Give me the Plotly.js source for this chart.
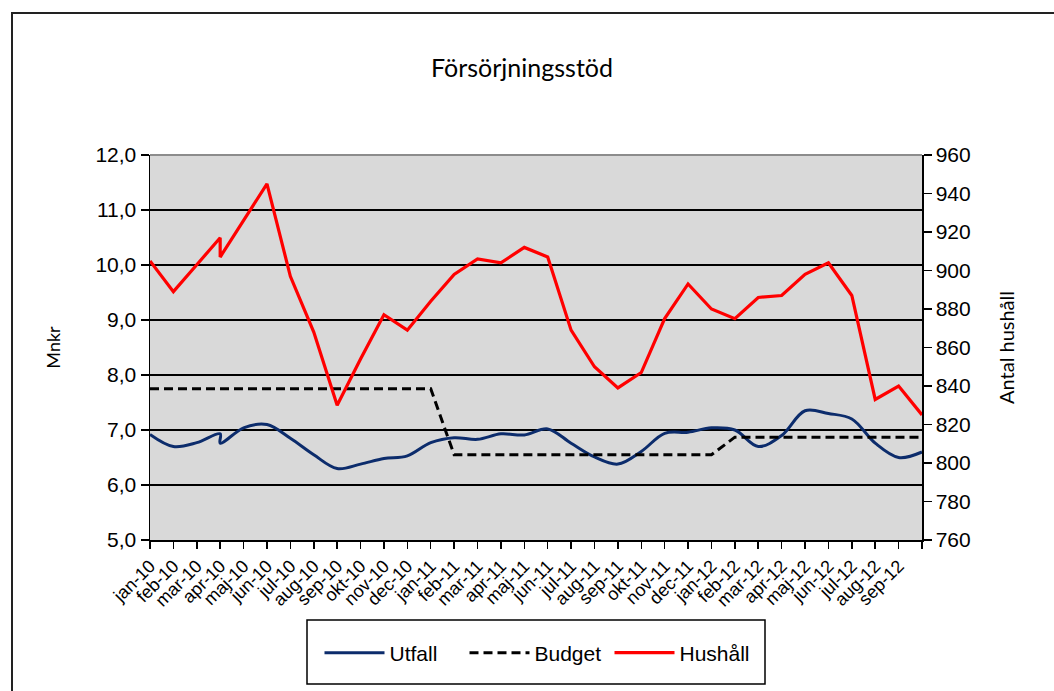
<!DOCTYPE html>
<html>
<head>
<meta charset="utf-8">
<script src="https://cdn.plot.ly/plotly-3.0.1.min.js"></script>
<style>
html,body{margin:0;padding:0;background:#fff;}
#chart{width:1054px;height:691px;}
</style>
</head>
<body>
<div id="chart"></div>
<script>
// Periods (April 2010 appears twice in the source data)
const periods = ['jan-10','feb-10','mar-10','apr-10','apr-10','maj-10','jun-10','jul-10','aug-10','sep-10','okt-10','nov-10','dec-10',
  'jan-11','feb-11','mar-11','apr-11','maj-11','jun-11','jul-11','aug-11','sep-11','okt-11','nov-11','dec-11',
  'jan-12','feb-12','mar-12','apr-12','maj-12','jun-12','jul-12','aug-12','sep-12','okt-12'];

// Axis categories and their labels (last category has no label)
const months = ['jan-10','feb-10','mar-10','apr-10','maj-10','jun-10','jul-10','aug-10','sep-10','okt-10','nov-10','dec-10',
  'jan-11','feb-11','mar-11','apr-11','maj-11','jun-11','jul-11','aug-11','sep-11','okt-11','nov-11','dec-11',
  'jan-12','feb-12','mar-12','apr-12','maj-12','jun-12','jul-12','aug-12','sep-12','okt-12'];
const monthLabels = ['jan-10','feb-10','mar-10','apr-10','maj-10','jun-10','jul-10','aug-10','sep-10','okt-10','nov-10','dec-10',
  'jan-11','feb-11','mar-11','apr-11','maj-11','jun-11','jul-11','aug-11','sep-11','okt-11','nov-11','dec-11',
  'jan-12','feb-12','mar-12','apr-12','maj-12','jun-12','jul-12','aug-12','sep-12',''];

// Utfall (Mnkr)
const utfall = [6.92,6.70,6.77,6.93,6.76,7.04,7.10,6.85,6.55,6.30,6.38,6.48,6.53,
  6.77,6.86,6.83,6.93,6.91,7.02,6.76,6.51,6.38,6.61,6.94,6.96,
  7.04,7.00,6.70,6.90,7.35,7.30,7.20,6.76,6.50,6.60];

// Budget (Mnkr)
const budget = [7.75,7.75,7.75,7.75,7.75,7.75,7.75,7.75,7.75,7.75,7.75,7.75,7.75,
  7.75,6.55,6.55,6.55,6.55,6.55,6.55,6.55,6.55,6.55,6.55,6.55,
  6.55,6.87,6.87,6.87,6.87,6.87,6.87,6.87,6.87,6.87];

// Hushåll (antal)
const hushall = [905,889,903,917,907,926,945,897,868,830,854,877,869,
  884,898,906,904,912,907,869,850,839,847,875,893,
  880,875,886,887,898,904,887,833,840,825];

const leftTicks = [5,6,7,8,9,10,11,12];
const rightTicks = [760,780,800,820,840,860,880,900,920,940,960];

const W = 1054, H = 691;
const M = {l:150, r:132, t:155, b:151};
const pw = W - M.l - M.r, ph = H - M.t - M.b;
const px = x => (x - M.l) / pw;
const py = y => (H - M.b - y) / ph;

const axisFont = {family:'"Liberation Sans", Arial, sans-serif', size:21, color:'#000'};
const titleFamily = 'Lato, "Open Sans", sans-serif';

const traces = [
  {x: periods, y: utfall, name:'Utfall', type:'scatter', mode:'lines',
   line:{color:'#0c2c6c', width:3, shape:'spline', smoothing:1}},
  {x: periods, y: budget, name:'Budget', type:'scatter', mode:'lines',
   line:{color:'#000000', width:3, dash:'9px,5px'}},
  {x: periods, y: hushall, name:'Hushåll', type:'scatter', mode:'lines', yaxis:'y2',
   line:{color:'#ff0000', width:3.2}}
];

const layout = {
  width: W, height: H,
  margin: M,
  paper_bgcolor:'#ffffff',
  plot_bgcolor:'#d9d9d9',
  separators:', ',
  showlegend:true,
  title:{text:'Försörjningsstöd', font:{family:titleFamily, size:25, color:'#000'},
         x: px(522), xref:'paper', xanchor:'center', y: 1 - 68/H, yref:'container', yanchor:'middle'},
  xaxis:{
    type:'category', categoryorder:'array', categoryarray: months,
    range:[0, months.length - 1],
    tickmode:'array', tickvals: months, ticktext: monthLabels,
    tickangle:-45, tickfont:{family:'"Liberation Sans", Arial, sans-serif', size:18, color:'#000'},
    ticks:'outside', ticklen:7, tickcolor:'#000', tickwidth:1.5,
    showline:true, linecolor:'#000', linewidth:1.5,
    showgrid:false, zeroline:false, automargin:false
  },
  yaxis:{
    range:[5,12], tickmode:'array', tickvals:leftTicks, tickformat:'.1f',
    tickfont:axisFont, ticks:'outside', ticklen:8, tickcolor:'#000', tickwidth:1.5,
    showline:true, linecolor:'#000', linewidth:1.5,
    showgrid:true, gridcolor:'#000', gridwidth:1.5, zeroline:false,
    title:{text:'Mnkr', font:{family:titleFamily, size:18, color:'#000'}, standoff:30},
    automargin:false
  },
  yaxis2:{
    overlaying:'y', side:'right',
    range:[760,960], tickmode:'array', tickvals:rightTicks,
    tickfont:axisFont, ticks:'outside', ticklen:8, tickcolor:'#000', tickwidth:1.5,
    showline:true, linecolor:'#000', linewidth:1.5,
    showgrid:false, zeroline:false,
    title:{text:'Antal hushåll', font:{family:titleFamily, size:20, color:'#000'}, standoff:30},
    automargin:false
  },
  legend:{
    orientation:'h', x: px(537), xanchor:'center', y: py(653), yanchor:'middle',
    font:{family:'"Liberation Sans", Arial, sans-serif', size:21, color:'#000'},
    bgcolor:'rgba(0,0,0,0)', borderwidth:0, itemwidth:60,
    entrywidth:70, entrywidthmode:'pixels'
  },
  shapes:[
    // outer chart border
    {type:'rect', xref:'paper', yref:'paper', x0:px(12), x1:px(1070), y0:py(705), y1:py(13),
     line:{color:'#222', width:2}, fillcolor:'rgba(0,0,0,0)', layer:'below'},
    // legend box
    {type:'rect', xref:'paper', yref:'paper', x0:px(307), x1:px(765), y0:py(684), y1:py(620),
     line:{color:'#000', width:1.5}, fillcolor:'#ffffff', layer:'below'},
    // plot area top edge
    {type:'line', xref:'paper', yref:'paper', x0:0, x1:1, y0:1, y1:1,
     line:{color:'#8c8c8c', width:2}, layer:'above'}
  ]
};

Plotly.newPlot('chart', traces, layout, {displayModeBar:false, staticPlot:true});
</script>
</body>
</html>
